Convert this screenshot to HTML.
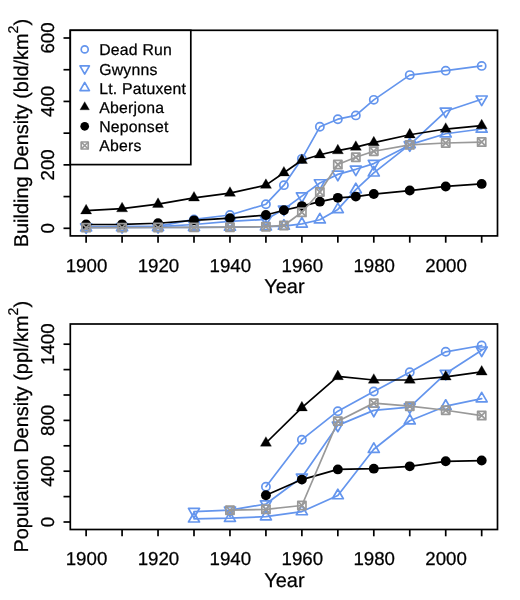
<!DOCTYPE html>
<html><head><meta charset="utf-8"><style>
html,body{margin:0;padding:0;background:#fff;}
svg{display:block;will-change:transform;}
text{font-family:"Liberation Sans",sans-serif;font-size:18.7px;fill:#000;stroke:#000;stroke-width:0.25px;text-rendering:geometricPrecision;}
</style></head><body>
<svg width="520" height="600" viewBox="0 0 520 600">
<rect width="520" height="600" fill="#fff"/>
<rect x="70.30" y="30.30" width="427.20" height="205.60" fill="none" stroke="#000" stroke-width="1.7"/>
<line x1="86.12" y1="235.90" x2="86.12" y2="242.70" stroke="#000" stroke-width="1.7"/>
<line x1="122.08" y1="235.90" x2="122.08" y2="242.70" stroke="#000" stroke-width="1.7"/>
<line x1="158.04" y1="235.90" x2="158.04" y2="242.70" stroke="#000" stroke-width="1.7"/>
<line x1="194.00" y1="235.90" x2="194.00" y2="242.70" stroke="#000" stroke-width="1.7"/>
<line x1="229.96" y1="235.90" x2="229.96" y2="242.70" stroke="#000" stroke-width="1.7"/>
<line x1="265.92" y1="235.90" x2="265.92" y2="242.70" stroke="#000" stroke-width="1.7"/>
<line x1="301.88" y1="235.90" x2="301.88" y2="242.70" stroke="#000" stroke-width="1.7"/>
<line x1="337.84" y1="235.90" x2="337.84" y2="242.70" stroke="#000" stroke-width="1.7"/>
<line x1="373.80" y1="235.90" x2="373.80" y2="242.70" stroke="#000" stroke-width="1.7"/>
<line x1="409.76" y1="235.90" x2="409.76" y2="242.70" stroke="#000" stroke-width="1.7"/>
<line x1="445.72" y1="235.90" x2="445.72" y2="242.70" stroke="#000" stroke-width="1.7"/>
<line x1="481.68" y1="235.90" x2="481.68" y2="242.70" stroke="#000" stroke-width="1.7"/>
<text x="86.52" y="271.50" text-anchor="middle">1900</text>
<text x="158.44" y="271.50" text-anchor="middle">1920</text>
<text x="230.36" y="271.50" text-anchor="middle">1940</text>
<text x="302.28" y="271.50" text-anchor="middle">1960</text>
<text x="374.20" y="271.50" text-anchor="middle">1980</text>
<text x="446.12" y="271.50" text-anchor="middle">2000</text>
<text x="284.40" y="292.90" text-anchor="middle" style="font-size:19.95px">Year</text>
<line x1="70.30" y1="228.30" x2="63.50" y2="228.30" stroke="#000" stroke-width="1.7"/>
<line x1="70.30" y1="196.58" x2="63.50" y2="196.58" stroke="#000" stroke-width="1.7"/>
<line x1="70.30" y1="164.87" x2="63.50" y2="164.87" stroke="#000" stroke-width="1.7"/>
<line x1="70.30" y1="133.15" x2="63.50" y2="133.15" stroke="#000" stroke-width="1.7"/>
<line x1="70.30" y1="101.43" x2="63.50" y2="101.43" stroke="#000" stroke-width="1.7"/>
<line x1="70.30" y1="69.72" x2="63.50" y2="69.72" stroke="#000" stroke-width="1.7"/>
<line x1="70.30" y1="38.00" x2="63.50" y2="38.00" stroke="#000" stroke-width="1.7"/>
<text transform="translate(54.30,228.30) rotate(-90)" text-anchor="middle">0</text>
<text transform="translate(54.30,164.87) rotate(-90)" text-anchor="middle">200</text>
<text transform="translate(54.30,101.43) rotate(-90)" text-anchor="middle">400</text>
<text transform="translate(54.30,38.00) rotate(-90)" text-anchor="middle">600</text>
<text transform="translate(27.9,133.10) rotate(-90)" text-anchor="middle" style="font-size:19.95px">Building Density (bld/km<tspan style="font-size:14.1px" dy="-9.7">2</tspan><tspan dy="9.7">)</tspan></text>
<path d="M86.12,226.71 L122.08,226.71 L158.04,226.40 L194.00,219.42 L229.96,214.98 L265.92,204.20 L283.90,185.16 L301.88,158.84 L319.86,126.81 L337.84,119.19 L355.82,115.39 L373.80,99.85 L409.76,75.11 L445.72,70.67 L481.68,65.91" fill="none" stroke="#6495ED" stroke-width="1.7" stroke-linejoin="round" stroke-linecap="round"/>
<circle cx="86.12" cy="226.71" r="4.10" fill="none" stroke="#6495ED" stroke-width="1.7"/>
<circle cx="122.08" cy="226.71" r="4.10" fill="none" stroke="#6495ED" stroke-width="1.7"/>
<circle cx="158.04" cy="226.40" r="4.10" fill="none" stroke="#6495ED" stroke-width="1.7"/>
<circle cx="194.00" cy="219.42" r="4.10" fill="none" stroke="#6495ED" stroke-width="1.7"/>
<circle cx="229.96" cy="214.98" r="4.10" fill="none" stroke="#6495ED" stroke-width="1.7"/>
<circle cx="265.92" cy="204.20" r="4.10" fill="none" stroke="#6495ED" stroke-width="1.7"/>
<circle cx="283.90" cy="185.16" r="4.10" fill="none" stroke="#6495ED" stroke-width="1.7"/>
<circle cx="301.88" cy="158.84" r="4.10" fill="none" stroke="#6495ED" stroke-width="1.7"/>
<circle cx="319.86" cy="126.81" r="4.10" fill="none" stroke="#6495ED" stroke-width="1.7"/>
<circle cx="337.84" cy="119.19" r="4.10" fill="none" stroke="#6495ED" stroke-width="1.7"/>
<circle cx="355.82" cy="115.39" r="4.10" fill="none" stroke="#6495ED" stroke-width="1.7"/>
<circle cx="373.80" cy="99.85" r="4.10" fill="none" stroke="#6495ED" stroke-width="1.7"/>
<circle cx="409.76" cy="75.11" r="4.10" fill="none" stroke="#6495ED" stroke-width="1.7"/>
<circle cx="445.72" cy="70.67" r="4.10" fill="none" stroke="#6495ED" stroke-width="1.7"/>
<circle cx="481.68" cy="65.91" r="4.10" fill="none" stroke="#6495ED" stroke-width="1.7"/>
<path d="M86.12,227.03 L122.08,226.71 L158.04,226.71 L194.00,224.49 L229.96,221.32 L265.92,219.42 L283.90,209.27 L301.88,196.11 L319.86,182.94 L337.84,174.38 L355.82,169.31 L373.80,163.60 L409.76,144.88 L445.72,111.26 L481.68,99.21" fill="none" stroke="#6495ED" stroke-width="1.7" stroke-linejoin="round" stroke-linecap="round"/>
<polygon points="86.12,233.41 91.64,223.84 80.60,223.84" fill="none" stroke="#6495ED" stroke-width="1.7" stroke-linejoin="round"/>
<polygon points="122.08,233.09 127.60,223.53 116.56,223.53" fill="none" stroke="#6495ED" stroke-width="1.7" stroke-linejoin="round"/>
<polygon points="158.04,233.09 163.56,223.53 152.52,223.53" fill="none" stroke="#6495ED" stroke-width="1.7" stroke-linejoin="round"/>
<polygon points="194.00,230.87 199.52,221.31 188.48,221.31" fill="none" stroke="#6495ED" stroke-width="1.7" stroke-linejoin="round"/>
<polygon points="229.96,227.70 235.48,218.13 224.44,218.13" fill="none" stroke="#6495ED" stroke-width="1.7" stroke-linejoin="round"/>
<polygon points="265.92,225.80 271.44,216.23 260.40,216.23" fill="none" stroke="#6495ED" stroke-width="1.7" stroke-linejoin="round"/>
<polygon points="283.90,215.65 289.42,206.08 278.38,206.08" fill="none" stroke="#6495ED" stroke-width="1.7" stroke-linejoin="round"/>
<polygon points="301.88,202.48 307.40,192.92 296.36,192.92" fill="none" stroke="#6495ED" stroke-width="1.7" stroke-linejoin="round"/>
<polygon points="319.86,189.32 325.38,179.76 314.34,179.76" fill="none" stroke="#6495ED" stroke-width="1.7" stroke-linejoin="round"/>
<polygon points="337.84,180.76 343.36,171.19 332.32,171.19" fill="none" stroke="#6495ED" stroke-width="1.7" stroke-linejoin="round"/>
<polygon points="355.82,175.68 361.34,166.12 350.30,166.12" fill="none" stroke="#6495ED" stroke-width="1.7" stroke-linejoin="round"/>
<polygon points="373.80,169.97 379.32,160.41 368.28,160.41" fill="none" stroke="#6495ED" stroke-width="1.7" stroke-linejoin="round"/>
<polygon points="409.76,151.26 415.28,141.70 404.24,141.70" fill="none" stroke="#6495ED" stroke-width="1.7" stroke-linejoin="round"/>
<polygon points="445.72,117.64 451.24,108.08 440.20,108.08" fill="none" stroke="#6495ED" stroke-width="1.7" stroke-linejoin="round"/>
<polygon points="481.68,105.59 487.20,96.02 476.16,96.02" fill="none" stroke="#6495ED" stroke-width="1.7" stroke-linejoin="round"/>
<path d="M86.12,227.67 L122.08,227.51 L158.04,227.35 L194.00,227.35 L229.96,227.03 L265.92,226.71 L283.90,226.08 L301.88,223.86 L319.86,219.74 L337.84,209.43 L355.82,189.61 L373.80,172.80 L409.76,144.57 L445.72,133.78 L481.68,129.03" fill="none" stroke="#6495ED" stroke-width="1.7" stroke-linejoin="round" stroke-linecap="round"/>
<polygon points="86.12,221.29 91.64,230.85 80.60,230.85" fill="none" stroke="#6495ED" stroke-width="1.7" stroke-linejoin="round"/>
<polygon points="122.08,221.13 127.60,230.70 116.56,230.70" fill="none" stroke="#6495ED" stroke-width="1.7" stroke-linejoin="round"/>
<polygon points="158.04,220.97 163.56,230.54 152.52,230.54" fill="none" stroke="#6495ED" stroke-width="1.7" stroke-linejoin="round"/>
<polygon points="194.00,220.97 199.52,230.54 188.48,230.54" fill="none" stroke="#6495ED" stroke-width="1.7" stroke-linejoin="round"/>
<polygon points="229.96,220.66 235.48,230.22 224.44,230.22" fill="none" stroke="#6495ED" stroke-width="1.7" stroke-linejoin="round"/>
<polygon points="265.92,220.34 271.44,229.90 260.40,229.90" fill="none" stroke="#6495ED" stroke-width="1.7" stroke-linejoin="round"/>
<polygon points="283.90,219.70 289.42,229.27 278.38,229.27" fill="none" stroke="#6495ED" stroke-width="1.7" stroke-linejoin="round"/>
<polygon points="301.88,217.48 307.40,227.05 296.36,227.05" fill="none" stroke="#6495ED" stroke-width="1.7" stroke-linejoin="round"/>
<polygon points="319.86,213.36 325.38,222.92 314.34,222.92" fill="none" stroke="#6495ED" stroke-width="1.7" stroke-linejoin="round"/>
<polygon points="337.84,203.05 343.36,212.62 332.32,212.62" fill="none" stroke="#6495ED" stroke-width="1.7" stroke-linejoin="round"/>
<polygon points="355.82,183.23 361.34,192.79 350.30,192.79" fill="none" stroke="#6495ED" stroke-width="1.7" stroke-linejoin="round"/>
<polygon points="373.80,166.42 379.32,175.98 368.28,175.98" fill="none" stroke="#6495ED" stroke-width="1.7" stroke-linejoin="round"/>
<polygon points="409.76,138.19 415.28,147.76 404.24,147.76" fill="none" stroke="#6495ED" stroke-width="1.7" stroke-linejoin="round"/>
<polygon points="445.72,127.41 451.24,136.97 440.20,136.97" fill="none" stroke="#6495ED" stroke-width="1.7" stroke-linejoin="round"/>
<polygon points="481.68,122.65 487.20,132.21 476.16,132.21" fill="none" stroke="#6495ED" stroke-width="1.7" stroke-linejoin="round"/>
<path d="M86.12,210.70 L122.08,208.64 L158.04,204.20 L194.00,197.85 L229.96,193.09 L265.92,185.16 L283.90,172.80 L301.88,160.27 L319.86,154.72 L337.84,150.59 L355.82,147.10 L373.80,142.66 L409.76,134.73 L445.72,129.03 L481.68,125.54" fill="none" stroke="#000000" stroke-width="1.7" stroke-linejoin="round" stroke-linecap="round"/>
<polygon points="86.12,204.32 91.64,213.89 80.60,213.89" fill="#000000" stroke="#000000" stroke-width="0.3" stroke-linejoin="miter"/>
<polygon points="122.08,202.26 127.60,211.82 116.56,211.82" fill="#000000" stroke="#000000" stroke-width="0.3" stroke-linejoin="miter"/>
<polygon points="158.04,197.82 163.56,207.38 152.52,207.38" fill="#000000" stroke="#000000" stroke-width="0.3" stroke-linejoin="miter"/>
<polygon points="194.00,191.48 199.52,201.04 188.48,201.04" fill="#000000" stroke="#000000" stroke-width="0.3" stroke-linejoin="miter"/>
<polygon points="229.96,186.72 235.48,196.28 224.44,196.28" fill="#000000" stroke="#000000" stroke-width="0.3" stroke-linejoin="miter"/>
<polygon points="265.92,178.79 271.44,188.35 260.40,188.35" fill="#000000" stroke="#000000" stroke-width="0.3" stroke-linejoin="miter"/>
<polygon points="283.90,166.42 289.42,175.98 278.38,175.98" fill="#000000" stroke="#000000" stroke-width="0.3" stroke-linejoin="miter"/>
<polygon points="301.88,153.89 307.40,163.46 296.36,163.46" fill="#000000" stroke="#000000" stroke-width="0.3" stroke-linejoin="miter"/>
<polygon points="319.86,148.34 325.38,157.90 314.34,157.90" fill="#000000" stroke="#000000" stroke-width="0.3" stroke-linejoin="miter"/>
<polygon points="337.84,144.22 343.36,153.78 332.32,153.78" fill="#000000" stroke="#000000" stroke-width="0.3" stroke-linejoin="miter"/>
<polygon points="355.82,140.73 361.34,150.29 350.30,150.29" fill="#000000" stroke="#000000" stroke-width="0.3" stroke-linejoin="miter"/>
<polygon points="373.80,136.29 379.32,145.85 368.28,145.85" fill="#000000" stroke="#000000" stroke-width="0.3" stroke-linejoin="miter"/>
<polygon points="409.76,128.36 415.28,137.92 404.24,137.92" fill="#000000" stroke="#000000" stroke-width="0.3" stroke-linejoin="miter"/>
<polygon points="445.72,122.65 451.24,132.21 440.20,132.21" fill="#000000" stroke="#000000" stroke-width="0.3" stroke-linejoin="miter"/>
<polygon points="481.68,119.16 487.20,128.72 476.16,128.72" fill="#000000" stroke="#000000" stroke-width="0.3" stroke-linejoin="miter"/>
<path d="M86.12,224.49 L122.08,224.34 L158.04,223.23 L194.00,220.37 L229.96,218.15 L265.92,214.98 L283.90,210.22 L301.88,206.10 L319.86,201.66 L337.84,197.85 L355.82,196.58 L373.80,194.05 L409.76,190.56 L445.72,186.43 L481.68,183.90" fill="none" stroke="#000000" stroke-width="1.7" stroke-linejoin="round" stroke-linecap="round"/>
<circle cx="86.12" cy="224.49" r="4.95" fill="#000000"/>
<circle cx="122.08" cy="224.34" r="4.95" fill="#000000"/>
<circle cx="158.04" cy="223.23" r="4.95" fill="#000000"/>
<circle cx="194.00" cy="220.37" r="4.95" fill="#000000"/>
<circle cx="229.96" cy="218.15" r="4.95" fill="#000000"/>
<circle cx="265.92" cy="214.98" r="4.95" fill="#000000"/>
<circle cx="283.90" cy="210.22" r="4.95" fill="#000000"/>
<circle cx="301.88" cy="206.10" r="4.95" fill="#000000"/>
<circle cx="319.86" cy="201.66" r="4.95" fill="#000000"/>
<circle cx="337.84" cy="197.85" r="4.95" fill="#000000"/>
<circle cx="355.82" cy="196.58" r="4.95" fill="#000000"/>
<circle cx="373.80" cy="194.05" r="4.95" fill="#000000"/>
<circle cx="409.76" cy="190.56" r="4.95" fill="#000000"/>
<circle cx="445.72" cy="186.43" r="4.95" fill="#000000"/>
<circle cx="481.68" cy="183.90" r="4.95" fill="#000000"/>
<path d="M86.12,227.67 L122.08,227.67 L158.04,227.51 L194.00,227.35 L229.96,227.19 L265.92,226.71 L283.90,225.45 L301.88,212.28 L319.86,191.98 L337.84,164.55 L355.82,157.25 L373.80,151.23 L409.76,144.88 L445.72,142.98 L481.68,142.03" fill="none" stroke="#999999" stroke-width="1.7" stroke-linejoin="round" stroke-linecap="round"/>
<rect x="82.02" y="223.57" width="8.20" height="8.20" fill="none" stroke="#999999" stroke-width="1.7" stroke-linejoin="round"/><path d="M82.02,223.57L90.22,231.77M82.02,231.77L90.22,223.57" stroke="#999999" stroke-width="1.7"/>
<rect x="117.98" y="223.57" width="8.20" height="8.20" fill="none" stroke="#999999" stroke-width="1.7" stroke-linejoin="round"/><path d="M117.98,223.57L126.18,231.77M117.98,231.77L126.18,223.57" stroke="#999999" stroke-width="1.7"/>
<rect x="153.94" y="223.41" width="8.20" height="8.20" fill="none" stroke="#999999" stroke-width="1.7" stroke-linejoin="round"/><path d="M153.94,223.41L162.14,231.61M153.94,231.61L162.14,223.41" stroke="#999999" stroke-width="1.7"/>
<rect x="189.90" y="223.25" width="8.20" height="8.20" fill="none" stroke="#999999" stroke-width="1.7" stroke-linejoin="round"/><path d="M189.90,223.25L198.10,231.45M189.90,231.45L198.10,223.25" stroke="#999999" stroke-width="1.7"/>
<rect x="225.86" y="223.09" width="8.20" height="8.20" fill="none" stroke="#999999" stroke-width="1.7" stroke-linejoin="round"/><path d="M225.86,223.09L234.06,231.29M225.86,231.29L234.06,223.09" stroke="#999999" stroke-width="1.7"/>
<rect x="261.82" y="222.61" width="8.20" height="8.20" fill="none" stroke="#999999" stroke-width="1.7" stroke-linejoin="round"/><path d="M261.82,222.61L270.02,230.81M261.82,230.81L270.02,222.61" stroke="#999999" stroke-width="1.7"/>
<rect x="279.80" y="221.35" width="8.20" height="8.20" fill="none" stroke="#999999" stroke-width="1.7" stroke-linejoin="round"/><path d="M279.80,221.35L288.00,229.55M279.80,229.55L288.00,221.35" stroke="#999999" stroke-width="1.7"/>
<rect x="297.78" y="208.18" width="8.20" height="8.20" fill="none" stroke="#999999" stroke-width="1.7" stroke-linejoin="round"/><path d="M297.78,208.18L305.98,216.38M297.78,216.38L305.98,208.18" stroke="#999999" stroke-width="1.7"/>
<rect x="315.76" y="187.88" width="8.20" height="8.20" fill="none" stroke="#999999" stroke-width="1.7" stroke-linejoin="round"/><path d="M315.76,187.88L323.96,196.08M315.76,196.08L323.96,187.88" stroke="#999999" stroke-width="1.7"/>
<rect x="333.74" y="160.45" width="8.20" height="8.20" fill="none" stroke="#999999" stroke-width="1.7" stroke-linejoin="round"/><path d="M333.74,160.45L341.94,168.65M333.74,168.65L341.94,160.45" stroke="#999999" stroke-width="1.7"/>
<rect x="351.72" y="153.15" width="8.20" height="8.20" fill="none" stroke="#999999" stroke-width="1.7" stroke-linejoin="round"/><path d="M351.72,153.15L359.92,161.35M351.72,161.35L359.92,153.15" stroke="#999999" stroke-width="1.7"/>
<rect x="369.70" y="147.13" width="8.20" height="8.20" fill="none" stroke="#999999" stroke-width="1.7" stroke-linejoin="round"/><path d="M369.70,147.13L377.90,155.33M369.70,155.33L377.90,147.13" stroke="#999999" stroke-width="1.7"/>
<rect x="405.66" y="140.78" width="8.20" height="8.20" fill="none" stroke="#999999" stroke-width="1.7" stroke-linejoin="round"/><path d="M405.66,140.78L413.86,148.98M405.66,148.98L413.86,140.78" stroke="#999999" stroke-width="1.7"/>
<rect x="441.62" y="138.88" width="8.20" height="8.20" fill="none" stroke="#999999" stroke-width="1.7" stroke-linejoin="round"/><path d="M441.62,138.88L449.82,147.08M441.62,147.08L449.82,138.88" stroke="#999999" stroke-width="1.7"/>
<rect x="477.58" y="137.93" width="8.20" height="8.20" fill="none" stroke="#999999" stroke-width="1.7" stroke-linejoin="round"/><path d="M477.58,137.93L485.78,146.13M477.58,146.13L485.78,137.93" stroke="#999999" stroke-width="1.7"/>
<rect x="70.30" y="30.30" width="120.50" height="134.30" fill="#fff" stroke="#000" stroke-width="1.7"/>
<circle cx="84.70" cy="49.45" r="3.50" fill="none" stroke="#6495ED" stroke-width="1.7"/>
<text x="99.2" y="55.35" style="font-size:15.8px;letter-spacing:0.22px">Dead Run</text>
<polygon points="84.70,74.10 89.41,65.94 79.99,65.94" fill="none" stroke="#6495ED" stroke-width="1.7" stroke-linejoin="round"/>
<text x="99.2" y="74.56" style="font-size:15.8px;letter-spacing:0.22px">Gwynns</text>
<polygon points="84.70,82.43 89.41,90.59 79.99,90.59" fill="none" stroke="#6495ED" stroke-width="1.7" stroke-linejoin="round"/>
<text x="99.2" y="93.77" style="font-size:15.8px;letter-spacing:0.22px">Lt. Patuxent</text>
<polygon points="84.70,101.64 89.41,109.80 79.99,109.80" fill="#000000" stroke="#000000" stroke-width="0.3" stroke-linejoin="miter"/>
<text x="99.2" y="112.98" style="font-size:15.8px;letter-spacing:0.22px">Aberjona</text>
<circle cx="84.70" cy="126.29" r="4.35" fill="#000000"/>
<text x="99.2" y="132.19" style="font-size:15.8px;letter-spacing:0.22px">Neponset</text>
<rect x="81.20" y="142.00" width="7.00" height="7.00" fill="none" stroke="#999999" stroke-width="1.7" stroke-linejoin="round"/><path d="M81.20,142.00L88.20,149.00M81.20,149.00L88.20,142.00" stroke="#999999" stroke-width="1.7"/>
<text x="99.2" y="151.40" style="font-size:15.8px;letter-spacing:0.22px">Abers</text>
<rect x="70.30" y="324.00" width="427.20" height="205.50" fill="none" stroke="#000" stroke-width="1.7"/>
<line x1="86.12" y1="529.50" x2="86.12" y2="536.30" stroke="#000" stroke-width="1.7"/>
<line x1="122.08" y1="529.50" x2="122.08" y2="536.30" stroke="#000" stroke-width="1.7"/>
<line x1="158.04" y1="529.50" x2="158.04" y2="536.30" stroke="#000" stroke-width="1.7"/>
<line x1="194.00" y1="529.50" x2="194.00" y2="536.30" stroke="#000" stroke-width="1.7"/>
<line x1="229.96" y1="529.50" x2="229.96" y2="536.30" stroke="#000" stroke-width="1.7"/>
<line x1="265.92" y1="529.50" x2="265.92" y2="536.30" stroke="#000" stroke-width="1.7"/>
<line x1="301.88" y1="529.50" x2="301.88" y2="536.30" stroke="#000" stroke-width="1.7"/>
<line x1="337.84" y1="529.50" x2="337.84" y2="536.30" stroke="#000" stroke-width="1.7"/>
<line x1="373.80" y1="529.50" x2="373.80" y2="536.30" stroke="#000" stroke-width="1.7"/>
<line x1="409.76" y1="529.50" x2="409.76" y2="536.30" stroke="#000" stroke-width="1.7"/>
<line x1="445.72" y1="529.50" x2="445.72" y2="536.30" stroke="#000" stroke-width="1.7"/>
<line x1="481.68" y1="529.50" x2="481.68" y2="536.30" stroke="#000" stroke-width="1.7"/>
<text x="86.52" y="565.10" text-anchor="middle">1900</text>
<text x="158.44" y="565.10" text-anchor="middle">1920</text>
<text x="230.36" y="565.10" text-anchor="middle">1940</text>
<text x="302.28" y="565.10" text-anchor="middle">1960</text>
<text x="374.20" y="565.10" text-anchor="middle">1980</text>
<text x="446.12" y="565.10" text-anchor="middle">2000</text>
<text x="284.40" y="586.50" text-anchor="middle" style="font-size:19.95px">Year</text>
<line x1="70.30" y1="522.00" x2="63.50" y2="522.00" stroke="#000" stroke-width="1.7"/>
<line x1="70.30" y1="496.60" x2="63.50" y2="496.60" stroke="#000" stroke-width="1.7"/>
<line x1="70.30" y1="471.20" x2="63.50" y2="471.20" stroke="#000" stroke-width="1.7"/>
<line x1="70.30" y1="445.80" x2="63.50" y2="445.80" stroke="#000" stroke-width="1.7"/>
<line x1="70.30" y1="420.40" x2="63.50" y2="420.40" stroke="#000" stroke-width="1.7"/>
<line x1="70.30" y1="395.00" x2="63.50" y2="395.00" stroke="#000" stroke-width="1.7"/>
<line x1="70.30" y1="369.60" x2="63.50" y2="369.60" stroke="#000" stroke-width="1.7"/>
<line x1="70.30" y1="344.20" x2="63.50" y2="344.20" stroke="#000" stroke-width="1.7"/>
<text transform="translate(54.30,522.00) rotate(-90)" text-anchor="middle">0</text>
<text transform="translate(54.30,471.20) rotate(-90)" text-anchor="middle">400</text>
<text transform="translate(54.30,420.40) rotate(-90)" text-anchor="middle">800</text>
<text transform="translate(54.30,344.20) rotate(-90)" text-anchor="middle">1400</text>
<text transform="translate(27.9,426.75) rotate(-90)" text-anchor="middle" style="font-size:19.95px">Population Density (ppl/km<tspan style="font-size:14.1px" dy="-9.7">2</tspan><tspan dy="9.7">)</tspan></text>
<path d="M265.92,486.69 L301.88,439.70 L337.84,411.13 L373.80,391.44 L409.76,372.27 L445.72,351.82 L481.68,345.47" fill="none" stroke="#6495ED" stroke-width="1.7" stroke-linejoin="round" stroke-linecap="round"/>
<circle cx="265.92" cy="486.69" r="4.10" fill="none" stroke="#6495ED" stroke-width="1.7"/>
<circle cx="301.88" cy="439.70" r="4.10" fill="none" stroke="#6495ED" stroke-width="1.7"/>
<circle cx="337.84" cy="411.13" r="4.10" fill="none" stroke="#6495ED" stroke-width="1.7"/>
<circle cx="373.80" cy="391.44" r="4.10" fill="none" stroke="#6495ED" stroke-width="1.7"/>
<circle cx="409.76" cy="372.27" r="4.10" fill="none" stroke="#6495ED" stroke-width="1.7"/>
<circle cx="445.72" cy="351.82" r="4.10" fill="none" stroke="#6495ED" stroke-width="1.7"/>
<circle cx="481.68" cy="345.47" r="4.10" fill="none" stroke="#6495ED" stroke-width="1.7"/>
<path d="M194.00,511.59 L229.96,510.19 L265.92,503.97 L301.88,477.30 L337.84,425.35 L373.80,410.37 L409.76,407.06 L445.72,373.54 L481.68,350.17" fill="none" stroke="#6495ED" stroke-width="1.7" stroke-linejoin="round" stroke-linecap="round"/>
<polygon points="194.00,517.96 199.52,508.40 188.48,508.40" fill="none" stroke="#6495ED" stroke-width="1.7" stroke-linejoin="round"/>
<polygon points="229.96,516.56 235.48,507.00 224.44,507.00" fill="none" stroke="#6495ED" stroke-width="1.7" stroke-linejoin="round"/>
<polygon points="265.92,510.34 271.44,500.78 260.40,500.78" fill="none" stroke="#6495ED" stroke-width="1.7" stroke-linejoin="round"/>
<polygon points="301.88,483.67 307.40,474.11 296.36,474.11" fill="none" stroke="#6495ED" stroke-width="1.7" stroke-linejoin="round"/>
<polygon points="337.84,431.73 343.36,422.17 332.32,422.17" fill="none" stroke="#6495ED" stroke-width="1.7" stroke-linejoin="round"/>
<polygon points="373.80,416.74 379.32,407.18 368.28,407.18" fill="none" stroke="#6495ED" stroke-width="1.7" stroke-linejoin="round"/>
<polygon points="409.76,413.44 415.28,403.88 404.24,403.88" fill="none" stroke="#6495ED" stroke-width="1.7" stroke-linejoin="round"/>
<polygon points="445.72,379.91 451.24,370.35 440.20,370.35" fill="none" stroke="#6495ED" stroke-width="1.7" stroke-linejoin="round"/>
<polygon points="481.68,356.54 487.20,346.98 476.16,346.98" fill="none" stroke="#6495ED" stroke-width="1.7" stroke-linejoin="round"/>
<path d="M194.00,518.83 L229.96,518.19 L265.92,516.67 L301.88,511.59 L337.84,495.58 L373.80,449.23 L409.76,420.78 L445.72,406.18 L481.68,398.68" fill="none" stroke="#6495ED" stroke-width="1.7" stroke-linejoin="round" stroke-linecap="round"/>
<polygon points="194.00,512.45 199.52,522.01 188.48,522.01" fill="none" stroke="#6495ED" stroke-width="1.7" stroke-linejoin="round"/>
<polygon points="229.96,511.81 235.48,521.38 224.44,521.38" fill="none" stroke="#6495ED" stroke-width="1.7" stroke-linejoin="round"/>
<polygon points="265.92,510.29 271.44,519.85 260.40,519.85" fill="none" stroke="#6495ED" stroke-width="1.7" stroke-linejoin="round"/>
<polygon points="301.88,505.21 307.40,514.77 296.36,514.77" fill="none" stroke="#6495ED" stroke-width="1.7" stroke-linejoin="round"/>
<polygon points="337.84,489.21 343.36,498.77 332.32,498.77" fill="none" stroke="#6495ED" stroke-width="1.7" stroke-linejoin="round"/>
<polygon points="373.80,442.85 379.32,452.42 368.28,452.42" fill="none" stroke="#6495ED" stroke-width="1.7" stroke-linejoin="round"/>
<polygon points="409.76,414.41 415.28,423.97 404.24,423.97" fill="none" stroke="#6495ED" stroke-width="1.7" stroke-linejoin="round"/>
<polygon points="445.72,399.80 451.24,409.36 440.20,409.36" fill="none" stroke="#6495ED" stroke-width="1.7" stroke-linejoin="round"/>
<polygon points="481.68,392.31 487.20,401.87 476.16,401.87" fill="none" stroke="#6495ED" stroke-width="1.7" stroke-linejoin="round"/>
<path d="M265.92,443.01 L301.88,407.70 L337.84,376.46 L373.80,380.01 L409.76,380.01 L445.72,376.84 L481.68,371.89" fill="none" stroke="#000000" stroke-width="1.7" stroke-linejoin="round" stroke-linecap="round"/>
<polygon points="265.92,436.63 271.44,446.19 260.40,446.19" fill="#000000" stroke="#000000" stroke-width="0.3" stroke-linejoin="miter"/>
<polygon points="301.88,401.32 307.40,410.89 296.36,410.89" fill="#000000" stroke="#000000" stroke-width="0.3" stroke-linejoin="miter"/>
<polygon points="337.84,370.08 343.36,379.65 332.32,379.65" fill="#000000" stroke="#000000" stroke-width="0.3" stroke-linejoin="miter"/>
<polygon points="373.80,373.64 379.32,383.20 368.28,383.20" fill="#000000" stroke="#000000" stroke-width="0.3" stroke-linejoin="miter"/>
<polygon points="409.76,373.64 415.28,383.20 404.24,383.20" fill="#000000" stroke="#000000" stroke-width="0.3" stroke-linejoin="miter"/>
<polygon points="445.72,370.46 451.24,380.03 440.20,380.03" fill="#000000" stroke="#000000" stroke-width="0.3" stroke-linejoin="miter"/>
<polygon points="481.68,365.51 487.20,375.07 476.16,375.07" fill="#000000" stroke="#000000" stroke-width="0.3" stroke-linejoin="miter"/>
<path d="M265.92,495.20 L301.88,479.58 L337.84,469.42 L373.80,468.66 L409.76,466.37 L445.72,461.29 L481.68,460.53" fill="none" stroke="#000000" stroke-width="1.7" stroke-linejoin="round" stroke-linecap="round"/>
<circle cx="265.92" cy="495.20" r="4.95" fill="#000000"/>
<circle cx="301.88" cy="479.58" r="4.95" fill="#000000"/>
<circle cx="337.84" cy="469.42" r="4.95" fill="#000000"/>
<circle cx="373.80" cy="468.66" r="4.95" fill="#000000"/>
<circle cx="409.76" cy="466.37" r="4.95" fill="#000000"/>
<circle cx="445.72" cy="461.29" r="4.95" fill="#000000"/>
<circle cx="481.68" cy="460.53" r="4.95" fill="#000000"/>
<path d="M229.96,510.19 L265.92,509.30 L301.88,505.49 L337.84,421.16 L373.80,403.13 L409.76,406.18 L445.72,410.24 L481.68,415.57" fill="none" stroke="#999999" stroke-width="1.7" stroke-linejoin="round" stroke-linecap="round"/>
<rect x="225.86" y="506.09" width="8.20" height="8.20" fill="none" stroke="#999999" stroke-width="1.7" stroke-linejoin="round"/><path d="M225.86,506.09L234.06,514.29M225.86,514.29L234.06,506.09" stroke="#999999" stroke-width="1.7"/>
<rect x="261.82" y="505.20" width="8.20" height="8.20" fill="none" stroke="#999999" stroke-width="1.7" stroke-linejoin="round"/><path d="M261.82,505.20L270.02,513.40M261.82,513.40L270.02,505.20" stroke="#999999" stroke-width="1.7"/>
<rect x="297.78" y="501.39" width="8.20" height="8.20" fill="none" stroke="#999999" stroke-width="1.7" stroke-linejoin="round"/><path d="M297.78,501.39L305.98,509.59M297.78,509.59L305.98,501.39" stroke="#999999" stroke-width="1.7"/>
<rect x="333.74" y="417.06" width="8.20" height="8.20" fill="none" stroke="#999999" stroke-width="1.7" stroke-linejoin="round"/><path d="M333.74,417.06L341.94,425.26M333.74,425.26L341.94,417.06" stroke="#999999" stroke-width="1.7"/>
<rect x="369.70" y="399.03" width="8.20" height="8.20" fill="none" stroke="#999999" stroke-width="1.7" stroke-linejoin="round"/><path d="M369.70,399.03L377.90,407.23M369.70,407.23L377.90,399.03" stroke="#999999" stroke-width="1.7"/>
<rect x="405.66" y="402.08" width="8.20" height="8.20" fill="none" stroke="#999999" stroke-width="1.7" stroke-linejoin="round"/><path d="M405.66,402.08L413.86,410.28M405.66,410.28L413.86,402.08" stroke="#999999" stroke-width="1.7"/>
<rect x="441.62" y="406.14" width="8.20" height="8.20" fill="none" stroke="#999999" stroke-width="1.7" stroke-linejoin="round"/><path d="M441.62,406.14L449.82,414.34M441.62,414.34L449.82,406.14" stroke="#999999" stroke-width="1.7"/>
<rect x="477.58" y="411.47" width="8.20" height="8.20" fill="none" stroke="#999999" stroke-width="1.7" stroke-linejoin="round"/><path d="M477.58,411.47L485.78,419.67M477.58,419.67L485.78,411.47" stroke="#999999" stroke-width="1.7"/>
</svg>
</body></html>
